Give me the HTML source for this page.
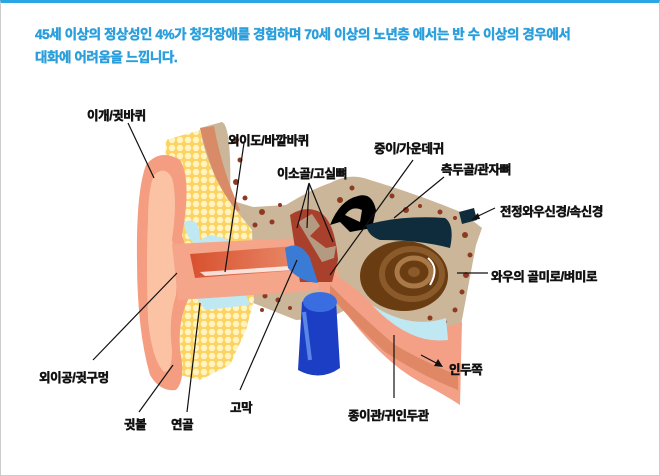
<!DOCTYPE html>
<html><head><meta charset="utf-8"><style>
html,body{margin:0;padding:0;background:#fff}
#w{position:relative;width:658px;height:472px;border:1px solid #ccc;border-top:3px solid #29a6e3;overflow:hidden;font-family:"Liberation Sans","Noto Sans CJK KR",sans-serif}
.t{position:absolute;left:34px;font-size:13.5px;font-weight:bold;color:#2a9fdc;letter-spacing:-0.4px;-webkit-text-stroke:0.45px #2a9fdc}
.l{position:absolute;font-size:12.5px;font-weight:bold;color:#111;white-space:nowrap;letter-spacing:-0.4px;-webkit-text-stroke:0.5px #111}
svg{position:absolute;left:-1px;top:-3px}
</style></head><body><div id="w">
<svg width="660" height="476" viewBox="0 0 660 476">
<defs>
<pattern id="fat" width="8" height="8" patternUnits="userSpaceOnUse"><rect width="8" height="8" fill="#fcd262"/><circle cx="4" cy="4" r="3.2" fill="#fff3c0"/></pattern>
<linearGradient id="canal" x1="0" x2="1"><stop offset="0" stop-color="#d8502e"/><stop offset="1" stop-color="#e88a6a"/></linearGradient>
</defs>
<path d="M200,128 L222,122 Q232,126 230,200 L253,207 L286,205 Q310,190 330,183 Q350,172 370,180 Q420,195 463,213 L482,228 L476,245 L461,325 L442,338 L349,308 L330,318 L296,320 L253,303 L248,285 L215,210 Z" fill="#cbb699"/>
<g fill="#8e3a22">
<circle cx="236" cy="140" r="3"/><circle cx="240" cy="160" r="2.5"/><circle cx="236" cy="182" r="3"/><circle cx="245" cy="198" r="2.5"/><circle cx="262" cy="212" r="3"/><circle cx="272" cy="222" r="2.5"/><circle cx="255" cy="225" r="2.5"/><circle cx="280" cy="205" r="2"/><circle cx="340" cy="200" r="3"/><circle cx="352" cy="188" r="2.5"/><circle cx="358" cy="208" r="2"/><circle cx="392" cy="196" r="2.5"/><circle cx="406" cy="210" r="3"/><circle cx="420" cy="206" r="2"/><circle cx="440" cy="212" r="2.5"/><circle cx="455" cy="218" r="2"/><circle cx="465" cy="235" r="3"/><circle cx="470" cy="255" r="2.5"/><circle cx="466" cy="275" r="3"/><circle cx="462" cy="292" r="2.5"/><circle cx="455" cy="310" r="2.5"/><circle cx="445" cy="322" r="2"/><circle cx="430" cy="318" r="2.5"/><circle cx="418" cy="326" r="2"/><circle cx="265" cy="296" r="2.5"/><circle cx="278" cy="300" r="2.5"/><circle cx="262" cy="310" r="2"/><circle cx="290" cy="308" r="2"/><circle cx="342" cy="300" r="2.5"/><circle cx="350" cy="312" r="2"/><circle cx="232" cy="213" r="2"/>
</g>
<path d="M200,128 L214,126 Q222,170 240,210 L232,215 Q210,170 200,128Z" fill="#d98a66"/>
<path d="M166,140 L200,130 Q210,180 240,215 L252,230 L254,300 L246,330 L230,365 L200,380 L176,374 L166,300 L163,220 Z" fill="url(#fat)"/>
<path d="M184,222 Q200,215 200,240 L210,235 Q240,240 236,252 L205,252 Q185,240 184,222Z" fill="#bfe8f2"/>
<path d="M195,296 L245,292 L250,305 L205,310 Z" fill="#bfe8f2"/>
<path d="M146,165 Q160,148 180,160 Q192,180 182,235 L190,262 L188,300 Q178,320 180,350 Q186,380 176,390 Q160,392 150,375 Q137,330 137,260 Q136,192 146,165Z" fill="#f49d80"/>
<path d="M154,175 Q165,165 172,178 Q178,200 172,240 L178,262 L176,295 Q168,320 172,350 Q172,372 164,372 Q152,360 148,320 Q146,260 148,220 Q148,190 154,175Z" fill="#fbc2a4"/>
<path d="M172,244 L300,238 L335,250 L340,285 L300,292 L178,300 Z" fill="#f5a58a"/>
<path d="M190,254 L295,246 L300,270 L195,278 Z" fill="url(#canal)"/>
<path d="M200,272 L290,266 L292,270 L205,276 Z" fill="#fff" opacity=".8"/>
<path d="M320,270 Q345,275 380,312 Q420,338 462,322 L460,405 Q445,395 420,382 Q380,360 340,305 L318,290 Z" fill="#f4a086"/>
<path d="M330,285 Q360,315 395,345 Q430,365 458,375 L458,390 Q420,375 385,352 Q350,320 330,295Z" fill="#e08866"/>
<path d="M372,305 Q410,330 446,318 L448,340 Q410,345 372,305Z" fill="#bfe8f2"/>
<path d="M290,215 Q305,205 320,212 Q335,222 338,260 L332,282 L300,282 Z" fill="#a9402c"/>
<path d="M298,222 L312,214 L320,226 L310,236 L326,248 L336,246 L334,258 L322,262 Z" fill="#b59a82"/>
<path d="M285,248 Q300,240 310,258 L318,283 Q300,282 288,268Z" fill="#3a7bd6"/>
<path d="M302,302 Q320,288 336,300 L340,368 Q320,382 298,370 Z" fill="#1c3ec4"/>
<ellipse cx="320" cy="302" rx="17" ry="10" fill="#3a6ee0"/>
<path d="M304,312 L310,360" stroke="#5a86e6" stroke-width="4"/>
<ellipse cx="404" cy="276" rx="44" ry="35" fill="#6a3c12"/>
<ellipse cx="412" cy="274" rx="30" ry="25" fill="none" stroke="#8a5a2a" stroke-width="6"/>
<ellipse cx="414" cy="272" rx="17" ry="14" fill="none" stroke="#a97a48" stroke-width="5"/>
<ellipse cx="414" cy="272" rx="6" ry="5" fill="#8a5a2a"/>
<path d="M428,258 Q440,268 430,285" stroke="#fff" stroke-width="2" fill="none"/>
<path d="M330,225 Q340,200 358,196 Q372,192 376,210 L372,228 L350,232 L340,222 Z" fill="#000"/>
<path d="M345,215 Q352,205 362,210 L360,222 Z" fill="#cbb699"/>
<path d="M366,225 Q400,215 445,218 Q455,225 450,248 Q420,240 380,240 Q368,236 366,225Z" fill="#0e2c3c"/>
<path d="M459,212 L474,208 L477,220 L462,224Z" fill="#0e2c3c"/>
<g stroke="#111" stroke-width="1.2" fill="none">
<path d="M128,123 L154,178"/>
<path d="M244,143 L225,272"/>
<path d="M309,183 L297,228 M309,183 L307,228 M309,183 L333,242"/>
<path d="M413,160 L330,275"/>
<path d="M444,177 L394,218"/>
<path d="M495,208 L474,218"/>
<path d="M488,273 L457,273"/>
<path d="M421,355 L440,365"/>
<path d="M394,398 L394,335"/>
<path d="M240,390 L297,260"/>
<path d="M187,412 L200,303"/>
<path d="M139,412 L173,365"/>
<path d="M93,360 L177,273"/>
</g>
<path d="M443,367 L434,366 L438,359 Z" fill="#111"/>
<path d="M471,220 L478,213 L480,219 Z" fill="#111"/>
</svg>
<div class="t" style="top:20px">45세 이상의 정상성인 4%가 청각장애를 경험하며 70세 이상의 노년층 에서는 반 수 이상의 경우에서</div>
<div class="t" style="top:43px">대화에 어려움을 느낍니다.</div>
<div class="l" style="left:86px;top:102px">이개/귓바퀴</div>
<div class="l" style="left:227px;top:127px">외이도/바깥바퀴</div>
<div class="l" style="left:276px;top:160px">이소골/고실뼈</div>
<div class="l" style="left:373px;top:135px">중이/가운데귀</div>
<div class="l" style="left:440px;top:156px">측두골/관자뼈</div>
<div class="l" style="left:499px;top:198px">전정와우신경/속신경</div>
<div class="l" style="left:490px;top:263px">와우의 골미로/벼미로</div>
<div class="l" style="left:448px;top:356px">인두쪽</div>
<div class="l" style="left:347px;top:402px">종이관/귀인두관</div>
<div class="l" style="left:229px;top:394px">고막</div>
<div class="l" style="left:170px;top:411px">연골</div>
<div class="l" style="left:123px;top:411px">귓볼</div>
<div class="l" style="left:38px;top:364px">외이공/귓구멍</div>
</div></body></html>
